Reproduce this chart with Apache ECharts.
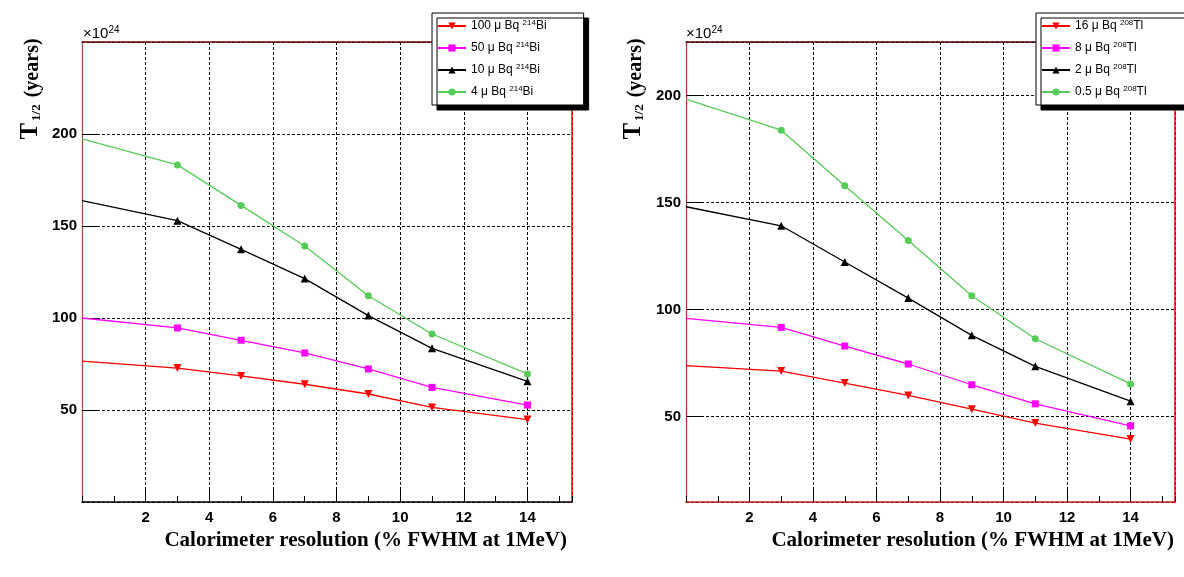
<!DOCTYPE html>
<html>
<head>
<meta charset="utf-8">
<script src="https://cdn.jsdelivr.net/npm/echarts@6/dist/echarts.min.js"></script>
<style>
  html, body { margin: 0; padding: 0; background: #fff; }
  #main { width: 1184px; height: 577px; }
</style>
</head>
<body>
<div id="main"></div>
<script>
// calorimeter resolution (% FWHM at 1 MeV)
var resolution = [0, 3, 5, 7, 9, 11, 14];

// T1/2 (x10^24 years), 214Bi contamination
var bi100 = [76.6, 72.8, 68.5, 64.0, 58.7, 51.4, 44.8];
var bi50 = [100.0, 94.6, 87.9, 81.0, 72.3, 62.3, 52.7];
var bi10 = [163.8, 152.9, 137.3, 121.4, 101.3, 83.5, 65.6];
var bi4 = [197.3, 183.2, 161.2, 139.1, 112.1, 91.3, 69.6];

// T1/2 (x10^24 years), 208Tl contamination
var tl16 = [73.7, 71.2, 65.6, 59.8, 53.4, 46.9, 39.4];
var tl8 = [95.8, 91.6, 82.9, 74.5, 64.8, 55.9, 45.6];
var tl2 = [148.0, 139.1, 122.2, 105.3, 87.9, 73.4, 57.1];
var tl05 = [198.3, 183.8, 157.8, 132.2, 106.4, 86.3, 65.2];

var biNames = ['100 μ Bq 214Bi', '50 μ Bq 214Bi', '10 μ Bq 214Bi', '4 μ Bq 214Bi'];
var tlNames = ['16 μ Bq 208Tl', '8 μ Bq 208Tl', '2 μ Bq 208Tl', '0.5 μ Bq 208Tl'];

var xMax = 15.4;
var yRangeBi = [0, 250];
var yRangeTl = [10, 225];

var styles = [
    { color: '#ff0000', symbol: 'triangle', rotate: 180, size: 8 },
    { color: '#ff00ff', symbol: 'rect', rotate: 0, size: 7 },
    { color: '#000000', symbol: 'triangle', rotate: 0, size: 8 },
    { color: '#55cc55', symbol: 'circle', rotate: 0, size: 7 }
];

var myChart = echarts.init(document.getElementById('main'));

function pairs(vals) {
    return resolution.map(function (x, i) {
        if (i === 0) {
            return { value: [x, vals[i]], symbol: 'none' };
        }
        return [x, vals[i]];
    });
}

function makeSeries(name, vals, st, idx) {
    return {
        name: name,
        type: 'line',
        xAxisIndex: idx * 3,
        yAxisIndex: idx * 2,
        data: pairs(vals),
        symbol: st.symbol,
        symbolSize: st.size,
        symbolRotate: st.rotate,
        lineStyle: { color: st.color, width: 1.3 },
        itemStyle: { color: st.color },
        animation: false
    };
}

var tickFont = { color: '#000', fontSize: 15, fontWeight: 'bold', fontFamily: 'Liberation Sans' };

function xAxes(gi, bottomColor, topColor) {
    return [
        {
            gridIndex: gi, type: 'value', min: 0, max: xMax, interval: 2, position: 'bottom',
            axisLine: { show: true, onZero: false, lineStyle: { color: bottomColor, width: 1.5 } },
            axisTick: { show: true, inside: true, length: 12, lineStyle: { color: '#000' } },
            axisLabel: Object.assign({ showMinLabel: false, showMaxLabel: false, margin: 8 }, tickFont),
            splitLine: { show: true, lineStyle: { color: '#000', type: [3, 2], width: 1 } }
        },
        {
            gridIndex: gi, type: 'value', min: 0, max: xMax, interval: 1, position: 'bottom',
            axisLine: { show: false },
            axisTick: { show: true, inside: true, length: 6, lineStyle: { color: '#000' } },
            axisLabel: { show: false },
            splitLine: { show: false }
        },
        {
            gridIndex: gi, type: 'value', min: 0, max: xMax, position: 'top',
            axisLine: { show: true, onZero: false, lineStyle: { color: topColor, width: 1.5 } },
            axisTick: { show: false },
            axisLabel: { show: false },
            splitLine: { show: false }
        }
    ];
}

function yAxes(gi, range, leftColor, rightColor) {
    return [
        {
            gridIndex: gi, type: 'value', min: range[0], max: range[1], position: 'left',
            axisLine: { show: true, onZero: false, lineStyle: { color: leftColor, width: 1.2 } },
            axisTick: { show: true, inside: true, length: 15, lineStyle: { color: '#000' } },
            axisLabel: Object.assign({ showMinLabel: false, showMaxLabel: false, margin: 5 }, tickFont),
            splitLine: { show: true, lineStyle: { color: '#000', type: [3, 2], width: 1 } }
        },
        {
            gridIndex: gi, type: 'value', min: range[0], max: range[1], position: 'right',
            axisLine: { show: true, onZero: false, lineStyle: { color: rightColor, width: 1.5 } },
            axisTick: { show: false },
            axisLabel: { show: false },
            splitLine: { show: false }
        }
    ];
}

function legendFor(names, left, pad) {
    return {
        data: names,
        orient: 'vertical',
        left: left,
        top: 13,
        padding: pad,
        itemWidth: 28,
        itemHeight: 9,
        itemGap: 8,
        backgroundColor: '#fff',
        borderColor: '#000',
        borderWidth: 1,
        shadowColor: '#000',
        shadowBlur: 0,
        shadowOffsetX: 5,
        shadowOffsetY: 5,
        selectedMode: false,
        formatter: function (name) {
            return name.replace(/(\d+)(Bi|Tl)$/, '{s|$1}$2');
        },
        textStyle: {
            color: '#000', fontSize: 12, lineHeight: 14, fontFamily: 'Liberation Sans',
            rich: { s: { fontSize: 8, lineHeight: 8, verticalAlign: 'top', fontFamily: 'Liberation Sans' } }
        }
    };
}

function yTitle(x) {
    return {
        type: 'text', x: x, y: 89, rotation: Math.PI / 2, silent: true,
        style: {
            text: '{t|T}{u|1/2}{n| (years)}',
            align: 'center', verticalAlign: 'middle',
            rich: {
                t: { fontSize: 25, fontWeight: 'bold', fontFamily: 'Liberation Serif', verticalAlign: 'bottom', lineHeight: 26 },
                u: { fontSize: 13, fontWeight: 'bold', fontFamily: 'Liberation Serif', verticalAlign: 'bottom', padding: [0, 2, 0, 2], lineHeight: 26 },
                n: { fontSize: 20, fontWeight: 'bold', fontFamily: 'Liberation Serif', verticalAlign: 'bottom', lineHeight: 26 }
            }
        }
    };
}

function expLabel(x) {
    return {
        type: 'text', x: x, y: 41, silent: true,
        style: {
            text: '{a|×10}{b|24}',
            align: 'left', verticalAlign: 'bottom',
            rich: {
                a: { fontSize: 15, fontFamily: 'Liberation Sans', color: '#000', lineHeight: 16, verticalAlign: 'bottom' },
                b: { fontSize: 10, fontFamily: 'Liberation Sans', color: '#000', lineHeight: 16, verticalAlign: 'top' }
            }
        }
    };
}

function xTitle(x) {
    return {
        type: 'text', x: x, y: 541, silent: true,
        style: {
            text: 'Calorimeter resolution (% FWHM at 1MeV)',
            align: 'right', verticalAlign: 'middle',
            fontSize: 21, fontWeight: 'bold', fontFamily: 'Liberation Serif', fill: '#000'
        }
    };
}

var seriesList = [];
[bi100, bi50, bi10, bi4].forEach(function (v, i) { seriesList.push(makeSeries(biNames[i], v, styles[i], 0)); });
[tl16, tl8, tl2, tl05].forEach(function (v, i) { seriesList.push(makeSeries(tlNames[i], v, styles[i], 1)); });

var option = {
    backgroundColor: '#fff',
    animation: false,
    grid: [
        { left: 82, top: 42, width: 490, height: 460 },
        { left: 686, top: 42, width: 489, height: 460 }
    ],
    xAxis: xAxes(0, '#000000', '#700000').concat(xAxes(1, '#d02020', '#500000')),
    yAxis: yAxes(0, yRangeBi, '#a04040', '#ff0000').concat(yAxes(1, yRangeTl, '#b03030', '#ff0000')),
    legend: [
        legendFor(biNames, 432, [6, 37, 6, 5]),
        legendFor(tlNames, 1036, [6, 80, 6, 5])
    ],
    graphic: [
        yTitle(30), yTitle(633),
        expLabel(83), expLabel(686),
        xTitle(567), xTitle(1174)
    ],
    series: seriesList
};
myChart.setOption(option);
</script>
</body>
</html>
